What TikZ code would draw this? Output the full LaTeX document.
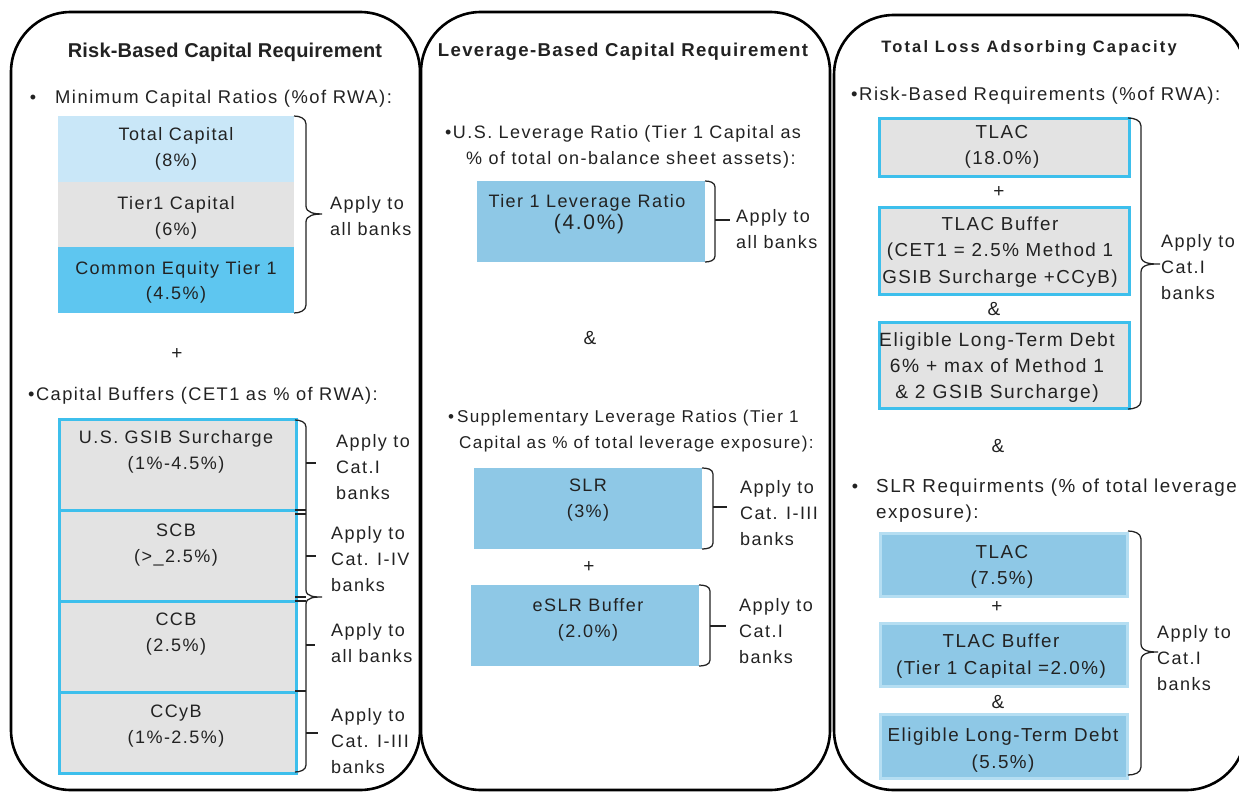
\documentclass[tikz,border=0pt]{standalone}
\usepackage{fontspec}
\setmainfont{Liberation Sans}[LetterSpace=8]
\newfontfamily\headA{Liberation Sans}[LetterSpace=1]
\newfontfamily\headB{Liberation Sans}[LetterSpace=7]
\newfontfamily\headC{Liberation Sans}[LetterSpace=13]
\definecolor{ink}{HTML}{222222}
\definecolor{paleblue}{HTML}{C9E7F8}
\definecolor{boxgrey}{HTML}{E3E3E3}
\definecolor{cetblue}{HTML}{5EC6F0}
\definecolor{midblue}{HTML}{8EC8E6}
\definecolor{cyanline}{HTML}{3DBFEC}
\definecolor{softline}{HTML}{B5DEF2}
\tikzset{
  panel/.style={draw=black, line width=2.6pt, rounded corners=60pt},
  txt/.style={font=\fontsize{18}{26}\selectfont, text=ink, inner sep=0pt, align=center, yshift=-2pt},
  ltxt/.style={txt, align=left, anchor=west},
  rtxt/.style={txt, font=\fontsize{18.8}{26.5}\selectfont},
  sign/.style={font=\fontsize{19}{22}\selectfont, text=ink, inner sep=0pt, yshift=-2pt},
  plainbox/.style={inner sep=0pt, anchor=north west, draw=none},
  rimbox/.style={inner sep=0pt, anchor=north west, draw=cyanline, line width=3pt, fill=boxgrey},
  softbox/.style={inner sep=0pt, anchor=north west, draw=softline, line width=2.5pt, fill=midblue},
  brace/.style={draw=ink, line width=1.25pt},
}
\begin{document}
\begin{tikzpicture}[x=1pt, y=-1pt]
\useasboundingbox (0,0) rectangle (1239,792);
\fill[white] (0,0) rectangle (1239,792);

% three panels
\draw[panel] (11,12) rectangle (420,790);
\draw[panel] (421,12) rectangle (830,790);
\draw[panel] (834,15) rectangle (1246,790);

% ---------- risk-based panel ----------
\node[txt, font=\headA\bfseries\fontsize{20}{24}\selectfont] (h1) at (225,50) {Risk-Based Capital Requirement};
\node[txt] (b1) at (33,97) {•};
\node[ltxt, font=\fontsize{18.4}{26}\selectfont] (m1) at (55,97) {Minimum Capital Ratios (\%of RWA):};

\node[plainbox, fill=paleblue, minimum width=236pt, minimum height=66pt] (tot) at (58,116) {};
\node[plainbox, fill=boxgrey, minimum width=236pt, minimum height=65pt] (tier) at (58,182) {};
\node[plainbox, fill=cetblue, minimum width=236pt, minimum height=66pt] (cet) at (58,247) {};
\node[txt] (tott) at (176,147) {Total Capital\\(8\%)};
\node[txt] (tiert) at (176,216) {Tier1 Capital\\(6\%)};
\node[txt, font=\fontsize{18}{25}\selectfont] (cett) at (176,280) {Common Equity Tier 1\\(4.5\%)};
\draw[brace] (294,116) to[out=0,in=90] (306,124) -- (306,206)
  to[out=-90,in=180] (322,214) to[out=180,in=90] (306,222) -- (306,305)
  to[out=-90,in=0] (294,313);
\node[ltxt] (ap1) at (330,214) {Apply to\\all banks};

\node[sign] (pl1) at (177,352) {+};
\node[ltxt, font=\fontsize{18.25}{26}\selectfont] (m2) at (28,394) {•Capital Buffers (CET1 as \% of RWA):};

\node[rimbox, minimum width=237pt, minimum height=91pt] (gsib) at (58,418) {};
\node[rimbox, minimum width=237pt, minimum height=91pt] (scb) at (58,509) {};
\node[rimbox, minimum width=237pt, minimum height=91pt] (ccb) at (58,600) {};
\node[rimbox, minimum width=237pt, minimum height=81pt] (ccyb) at (58,691) {};
\node[txt] (gsibt) at (176,450) {U.S. GSIB Surcharge\\(1\%-4.5\%)};
\node[txt] (scbt) at (176,543) {SCB\\(>\_2.5\%)};
\node[txt] (ccbt) at (176,632) {CCB\\(2.5\%)};
\node[txt] (ccybt) at (176,724) {CCyB\\(1\%-2.5\%)};

\draw[brace] (295,420) to[out=0,in=90] (306,427) -- (306,590)
  to[out=-90,in=180] (322,597) to[out=180,in=90] (306,604) -- (306,765)
  to[out=-90,in=0] (295,772);
\draw[brace] (295,510) -- (306,510) (295,514) -- (306,514);
\draw[brace] (295,597) -- (306,597) (295,601) -- (306,601);
\draw[brace] (295,691) -- (306,691);
\draw[brace] (306,463) -- (316,463) (306,556) -- (316,556)
  (306,645) -- (315,645) (306,733) -- (318,733);
\node[ltxt] (ap2) at (336,465) {Apply to\\Cat.I\\banks};
\node[ltxt] (ap3) at (331,557) {Apply to\\Cat. I-IV\\banks};
\node[ltxt] (ap4) at (331,641) {Apply to\\all banks};
\node[ltxt] (ap5) at (331,739) {Apply to\\Cat. I-III\\banks};

% ---------- leverage-based panel ----------
\node[txt, font=\headB\bfseries\fontsize{18.6}{22}\selectfont] (h2) at (623,50) {Leverage-Based Capital Requirement};
\node[ltxt] (m3) at (445,145) {•U.S. Leverage Ratio (Tier 1 Capital as\\\hspace*{21pt}\% of total on-balance sheet assets):};
\node[plainbox, fill=midblue, minimum width=228pt, minimum height=81pt] (lev) at (477,181) {};
\node[txt] (levt) at (587,201) {Tier 1 Leverage Ratio};
\node[txt, font=\fontsize{21}{24}\selectfont] (levp) at (589,222) {(4.0\%)};
\draw[brace] (705,181) to[out=0,in=90] (715,187) -- (715,256) to[out=-90,in=0] (705,262);
\draw[brace] (715,220) -- (730,220);
\node[ltxt] (ap6) at (736,227) {Apply to\\all banks};

\node[sign] (amp1) at (590,336) {\&};
\node[ltxt, font=\fontsize{17.1}{26}\selectfont] (m4) at (448,429) {•\,Supplementary Leverage Ratios (Tier 1\\\hspace*{11pt}Capital as \% of total leverage exposure):};
\node[plainbox, fill=midblue, minimum width=228pt, minimum height=81pt] (slr) at (474,468) {};
\node[txt] (slrt) at (588,498) {SLR\\(3\%)};
\draw[brace] (702,468) to[out=0,in=90] (713,474) -- (713,543) to[out=-90,in=0] (702,549);
\draw[brace] (713,507) -- (727,507);
\node[ltxt] (ap7) at (740,511) {Apply to\\Cat. I-III\\banks};

\node[sign] (pl2) at (589,565) {+};
\node[plainbox, fill=midblue, minimum width=228pt, minimum height=81pt] (eslr) at (471,585) {};
\node[txt] (eslrt) at (588,618) {eSLR Buffer\\(2.0\%)};
\draw[brace] (699,585) to[out=0,in=90] (710,591) -- (710,660) to[out=-90,in=0] (699,666);
\draw[brace] (710,626) -- (726,626);
\node[ltxt] (ap8) at (739,629) {Apply to\\Cat.I\\banks};

% ---------- loss-absorbing panel ----------
\node[txt, font=\headC\bfseries\fontsize{16.5}{20}\selectfont] (h3) at (1029,46) {Total Loss Adsorbing Capacity};
\node[ltxt, font=\fontsize{18.5}{26}\selectfont] (m5) at (851,94) {•Risk-Based Requirements (\%of RWA):};
\node[rimbox, minimum width=250pt, minimum height=58pt] (tl1) at (878,117) {};
\node[rtxt] (tl1t) at (1002,145) {TLAC\\(18.0\%)};
\node[sign] (pl3) at (999,190) {+};
\node[rimbox, minimum width=250pt, minimum height=87pt] (tb1) at (878,206) {};
\node[rtxt] (tb1t) at (1000,250) {TLAC Buffer\\(CET1 = 2.5\% Method 1\\GSIB Surcharge +CCyB)};
\node[sign] (amp2) at (994,307) {\&};
\node[rimbox, minimum width=250pt, minimum height=86pt] (ld1) at (878,321) {};
\node[rtxt, font=\fontsize{19.2}{26}\selectfont] (ld1t) at (997,366) {Eligible Long-Term Debt\\6\% + max of Method 1\\\& 2 GSIB Surcharge)};
\draw[brace] (1128,118) to[out=0,in=90] (1141,126) -- (1141,256)
  to[out=-90,in=180] (1160,264) to[out=180,in=90] (1141,272) -- (1141,401)
  to[out=-90,in=0] (1128,409);
\node[ltxt] (ap9) at (1161,265) {Apply to\\Cat.I\\banks};

\node[sign] (amp3) at (998,444) {\&};
\node[txt] (b6) at (855,486) {•};
\node[ltxt, font=\fontsize{18.8}{26}\selectfont] (m6) at (876,499) {SLR Requirments (\% of total leverage\\exposure):};
\node[softbox, minimum width=247pt, minimum height=63pt] (tl2) at (879,532) {};
\node[rtxt] (tl2t) at (1002,565) {TLAC\\(7.5\%)};
\node[sign] (pl4) at (997,605) {+};
\node[softbox, minimum width=247pt, minimum height=63pt] (tb2) at (879,622) {};
\node[rtxt] (tb2t) at (1001,654) {TLAC Buffer\\(Tier 1 Capital =2.0\%)};
\node[sign] (amp4) at (998,700) {\&};
\node[softbox, minimum width=247pt, minimum height=64pt] (ld2) at (879,713) {};
\node[rtxt] (ld2t) at (1003,748) {Eligible Long-Term Debt\\(5.5\%)};
\draw[brace] (1128,531) to[out=0,in=90] (1141,539) -- (1141,644)
  to[out=-90,in=180] (1158,652) to[out=180,in=90] (1141,660) -- (1141,767)
  to[out=-90,in=0] (1128,775);
\node[ltxt] (ap10) at (1157,656) {Apply to\\Cat.I\\banks};
\end{tikzpicture}
\end{document}
